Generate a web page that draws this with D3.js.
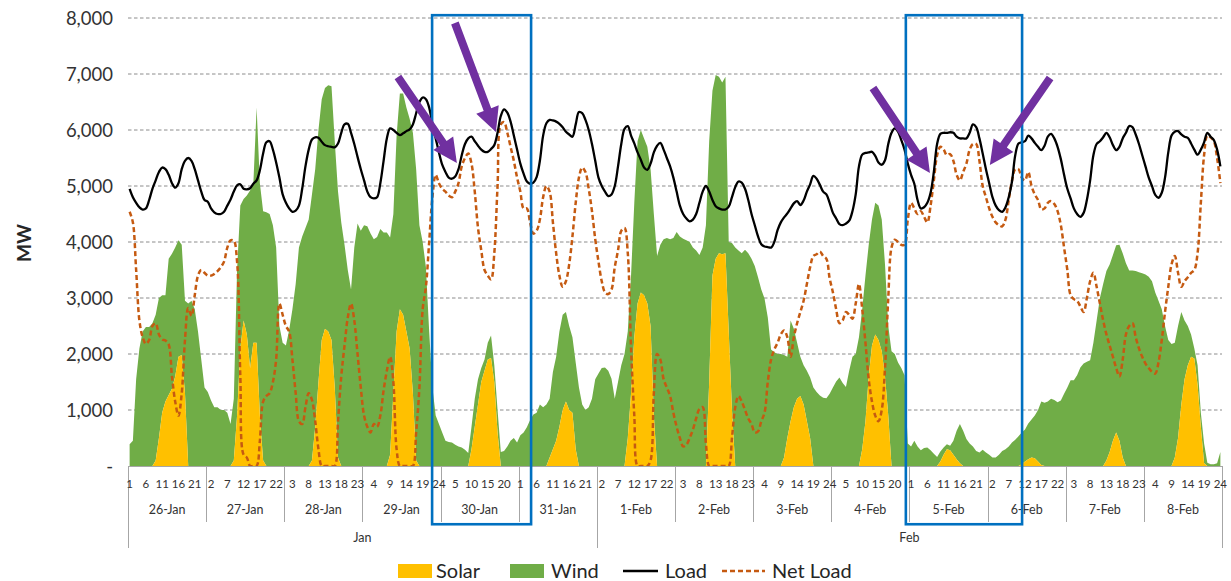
<!DOCTYPE html>
<html><head><meta charset="utf-8">
<script src="https://cdn.jsdelivr.net/npm/d3@7"></script>
<style>
body{margin:0;background:#fff;}
svg{display:block;font-family:Lato,"Open Sans",sans-serif;}
</style>
</head><body>
<svg id="chart" width="1231" height="581"></svg>
<script>
// ---------------- DATA ----------------
const days = ["26-Jan","27-Jan","28-Jan","29-Jan","30-Jan","31-Jan","1-Feb","2-Feb","3-Feb","4-Feb","5-Feb","6-Feb","7-Feb","8-Feb"];
const months = ["Jan","Feb"];
const monthDayCounts = [6, 8];
const hourLabelStep = 5;
const yTicks = [0,1000,2000,3000,4000,5000,6000,7000,8000];
const seriesNames = ["Solar","Wind","Load","Net Load"];

// hourly MW, one row per day (hours 1..24)
const solar = [
  0,0,0,0,0,0,0,0,100,500,950,1150,1270,1380,1600,1950,1980,1300,0,0,0,0,0,0,
  0,0,0,0,0,0,0,0,100,900,2100,2600,2350,1750,2200,2200,900,100,0,0,0,0,0,0,
  0,0,0,0,0,0,0,0,100,700,1500,2250,2450,2400,2250,1400,150,0,0,0,0,0,0,0,
  0,0,0,0,0,0,0,0,200,1300,2400,2800,2700,2400,2100,1300,100,0,0,0,0,0,0,0,
  0,0,0,0,0,0,0,0,0,300,700,1100,1500,1700,1900,1930,1500,600,0,0,0,0,0,0,
  0,0,0,0,0,0,0,0,0,150,300,450,700,1000,1150,1000,950,300,0,0,0,0,0,0,
  0,0,0,0,0,0,0,0,0,500,1300,2300,2900,3100,3050,2900,2500,900,0,0,0,0,0,0,
  0,0,0,0,0,0,0,0,0,0,1500,3400,3700,3800,3780,3800,2400,1000,0,0,0,0,0,0,
  0,0,0,0,0,0,0,0,0,150,500,800,1050,1200,1250,1100,800,500,0,0,0,0,0,0,
  0,0,0,0,0,0,0,0,0,300,800,1600,2150,2350,2250,2050,1600,900,0,0,0,0,0,0,
  0,0,0,0,0,0,0,0,0,80,200,300,280,200,120,50,0,0,0,0,0,0,0,0,
  0,0,0,0,0,0,0,0,0,0,30,80,120,150,140,80,20,0,0,0,0,0,0,0,
  0,0,0,0,0,0,0,0,0,0,0,0,100,250,450,600,450,150,0,0,0,0,0,0,
  0,0,0,0,0,0,0,0,0,150,500,1100,1550,1800,1950,1920,1450,700,50,0,0,0,0,0
];
const wind = [
  390,450,1550,2100,2400,2480,2480,2550,2600,2500,2100,1900,2430,2410,2300,2080,1970,1650,2900,2950,2800,2400,1900,1400,
  1320,1170,1050,1050,1000,1000,950,750,1100,2600,2550,2170,2480,3170,2840,4200,4150,4450,4530,4500,4300,3900,2500,2200,
  2150,2430,2800,3250,3900,4100,4250,4400,4750,4600,4500,4300,4300,4400,4530,4400,4750,4350,3950,3500,3150,3900,4330,4200,
  4300,4280,4150,4050,4090,4230,4170,4170,3880,3200,3500,3850,3950,4000,4100,4650,5200,4300,4000,3550,2400,1400,900,750,
  600,450,430,420,380,350,330,290,230,400,500,450,250,200,300,400,300,400,250,270,350,450,500,420,
  550,600,690,820,920,950,1100,1050,1100,1050,1380,1500,1700,1700,1600,1500,1350,1550,1400,1100,1000,1050,1200,1550,
  1650,1750,1760,1700,1560,1200,1500,1800,2000,1900,2100,2400,2900,2900,2800,2800,2800,3600,3750,3950,4050,4070,4050,4070,
  4180,4100,4060,4030,4000,3900,3850,3770,3900,4300,4300,3300,3280,3150,3070,3150,1600,2980,3900,3850,3800,3860,3800,3700,
  3570,3370,3150,2990,2650,2080,2030,2000,2000,1830,1450,1800,1400,1000,700,700,900,1080,1400,1320,1260,1220,1210,1290,
  1400,1510,1580,1480,1410,1700,1950,2000,2300,2500,2600,2350,2250,2350,2400,2350,2000,1600,2050,2000,1850,1750,1620,400,
  350,450,350,280,320,330,280,220,160,180,130,90,80,250,510,700,630,480,400,350,270,240,290,240,
  200,150,150,200,270,300,350,420,470,530,570,570,640,680,760,920,1130,1130,1150,1200,1180,1140,1170,1290,
  1400,1530,1530,1620,1760,1830,1860,1890,2200,2600,3000,3250,3380,3350,3320,3340,3500,3650,3620,3490,3490,3480,3460,3440,
  3420,3380,3300,3100,2950,2800,2500,2250,2180,2050,2000,1650,1050,700,400,180,350,250,350,60,30,30,50,250
];
const load = [
  4950,4800,4700,4620,4580,4600,4750,4950,5100,5250,5330,5300,5200,5050,4970,5050,5300,5450,5500,5450,5300,5100,4900,4750,
  4720,4600,4530,4500,4500,4540,4650,4760,4900,5010,5030,4950,4940,4960,5040,5100,5280,5580,5780,5800,5650,5420,5150,4850,
  4700,4600,4540,4560,4650,4950,5350,5650,5830,5870,5860,5790,5730,5710,5700,5690,5760,5950,6100,6110,5950,5750,5520,5300,
  5100,4900,4800,4780,4800,5050,5450,5850,6030,6000,5950,5910,5940,5980,6010,6100,6300,6500,6580,6550,6400,6100,5850,5600,
  5380,5250,5150,5130,5170,5300,5550,5750,5850,5880,5800,5720,5650,5610,5610,5660,5730,5950,6250,6370,6310,6150,5900,5650,
  5400,5220,5080,5040,5060,5160,5450,5900,6120,6180,6170,6150,6110,6050,5970,5920,5880,6100,6320,6300,6180,6000,5750,5450,
  5150,5000,4900,4820,4850,5000,5350,5750,6020,6070,5900,5760,5600,5470,5330,5290,5400,5600,5720,5770,5650,5500,5350,5150,
  4900,4650,4500,4420,4370,4400,4500,4700,4900,5000,4900,4750,4640,4600,4580,4580,4630,4800,4980,5080,5060,4950,4750,4500,
  4300,4100,3960,3920,3910,3900,4000,4210,4350,4440,4510,4600,4690,4730,4660,4740,4900,5030,5180,5130,5020,4900,4850,4700,
  4520,4420,4320,4300,4330,4380,4550,4850,5350,5560,5590,5600,5610,5540,5420,5380,5460,5750,5950,6030,5970,5820,5650,5400,
  5200,5040,4750,4600,4620,4700,4880,5250,5750,5930,5950,5950,5960,5950,5880,5850,5850,5850,5950,6100,6050,5850,5580,5300,
  5050,4800,4650,4570,4540,4620,4800,5080,5550,5760,5780,5800,5900,5850,5770,5700,5640,5720,5880,5930,5850,5700,5480,5200,
  4950,4780,4600,4500,4450,4520,4750,5100,5550,5750,5800,5870,5950,5870,5730,5640,5700,5850,5950,6070,6050,5920,5750,5550,
  5350,5150,5000,4840,4790,4880,5150,5600,5900,5970,5980,5920,5880,5860,5760,5650,5560,5650,5780,5950,5880,5820,5650,5350
];
const netLoad = [
  4540,4350,3500,2600,2300,2180,2250,2500,2550,2350,2260,2240,2170,1600,1150,900,1300,2250,2820,2680,3050,3400,3500,3450,
  3400,3400,3430,3480,3550,3650,3900,4030,4020,3650,1600,200,150,0,0,0,450,1150,1250,1300,1500,1900,2900,2700,
  2500,2400,1900,1300,800,750,1050,1300,1180,800,300,0,0,0,0,0,800,1600,2150,2650,2900,2600,2000,1400,
  900,700,600,750,700,900,1350,1700,1950,1500,300,0,0,0,0,0,600,1400,2800,3200,4000,4800,5200,5050,
  4950,4900,4830,4800,4900,5050,5350,5500,5580,5400,4900,4250,3850,3500,3400,3330,3800,5000,6100,6140,5950,5700,5450,5150,
  4900,4600,4600,4350,4150,4200,4400,4800,5000,4900,4350,3800,3400,3200,3300,3600,4100,4700,5150,5330,5250,4950,4550,4050,
  3650,3300,3100,3070,3150,3550,3850,4200,4250,3800,2100,900,0,0,0,0,100,1300,2000,1900,1550,1400,1250,950,
  700,500,350,380,500,650,850,1020,1050,400,0,0,0,0,0,0,0,500,1050,1250,1150,1000,850,750,
  600,620,800,950,1500,1900,2080,2200,2350,2420,2300,1950,2300,2550,2750,2950,3250,3550,3750,3780,3830,3750,3700,3350,
  3100,2800,2550,2600,2750,2700,2630,2900,3250,2800,2200,1550,1150,900,800,1000,1750,3000,3900,4040,4000,3950,3950,4400,
  4700,4600,4500,4550,4450,4350,4650,5100,5550,5700,5650,5550,5570,5450,5200,5100,5250,5400,5650,5750,5750,5450,5000,4800,
  4600,4450,4350,4300,4280,4400,4750,5100,5300,5300,5150,5100,5250,5000,4850,4750,4580,4600,4700,4730,4680,4550,4300,3900,
  3500,3050,2980,2950,2850,2750,3000,3300,3450,3200,2900,2600,2350,2150,1950,1750,1600,1900,2350,2500,2550,2300,2100,1950,
  1830,1750,1680,1650,1850,2250,2750,3200,3600,3750,3450,3200,3300,3370,3450,3500,3800,4700,5550,5900,5870,5800,5500,5050
];

// annotations in data units (h = hours from start of 26-Jan, MW)
const boxes = [{h0:93.4,h1:123.8,top:8050,bottom:-1040},{h0:238.9,h1:274.6,top:8050,bottom:-1040}];
const arrows = [
  {h0:82.9,v0:6946,h1:101.0,v1:5411},
  {h0:100.4,v0:7911,h1:113.0,v1:5964},
  {h0:228.8,v0:6750,h1:246.3,v1:5232},
  {h0:283.2,v0:6929,h1:264.7,v1:5375}
];

// ---------------- CHART ----------------
const HOURS = 24;
const N = days.length * HOURS;
const idx = d3.range(N);
const hourOfDay = idx.map(i => (i % HOURS) + 1);
const rows = idx.map(i => ({i, solar: solar[i], wind: wind[i], load: load[i], net: netLoad[i]}));

const svg = d3.select("#chart");
const L = 128, R = 1222, T = 18, B = 466;
const x = d3.scaleBand().domain(idx).range([L, R]).paddingInner(0).paddingOuter(0);
const bw = x.bandwidth();
const cx = i => x(i) + bw / 2;
const xh = h => L + h * bw;
const y = d3.scaleLinear().domain([0, 8000]).range([B, T]);

const C = {solar:"#FFC000", wind:"#70AD47", load:"#000000", net:"#C55A11", grid:"#8c8c8c", axis:"#a6a6a6", text:"#404040", box:"#0070C0", arrow:"#7030A0"};

svg.append("defs").append("clipPath").attr("id","plotclip")
  .append("rect").attr("x", L).attr("y", T - 5).attr("width", R - L).attr("height", B - T + 6);

// gridlines
svg.append("g").selectAll("line").data(yTicks.filter(v => v > 0)).join("line")
  .attr("x1", L).attr("x2", R).attr("y1", d => y(d)).attr("y2", d => y(d))
  .attr("stroke", C.grid).attr("stroke-width", 1).attr("stroke-dasharray", "3.5,2.5");

// y labels
svg.append("g").selectAll("text").data(yTicks).join("text")
  .attr("x", 113).attr("y", d => y(d) + 6.5)
  .attr("text-anchor", "end").attr("font-size", 18.5).attr("fill", "#333")
  .text(d => d === 0 ? "-" : d3.format(",")(d));

svg.append("text").attr("transform", "translate(24,243) rotate(-90)")
  .attr("text-anchor", "middle").attr("dy", "0.35em")
  .attr("font-size", 19).attr("font-weight", "bold").attr("fill", "#262626").text("MW");

// stacked areas
const stack = d3.stack().keys(["solar", "wind"])(rows);
const area = d3.area().x((d, k) => cx(k)).y0(d => y(d[0])).y1(d => y(d[1])).curve(d3.curveLinear);
const plot = svg.append("g").attr("clip-path", "url(#plotclip)");
plot.append("path").datum(stack[1]).attr("d", area).attr("fill", C.wind);
plot.append("path").datum(stack[0]).attr("d", area).attr("fill", C.solar);

// lines
const line = key => d3.line().x(d => cx(d.i)).y(d => y(d[key])).curve(d3.curveCatmullRom.alpha(0.5));
plot.append("path").datum(rows).attr("d", line("net")).attr("fill", "none")
  .attr("stroke", C.net).attr("stroke-width", 2.5).attr("stroke-dasharray", "5,3");
plot.append("path").datum(rows).attr("d", line("load")).attr("fill", "none")
  .attr("stroke", C.load).attr("stroke-width", 2.3);

// x axis
const ax = svg.append("g");
ax.append("line").attr("x1", L).attr("x2", R).attr("y1", B + 0.5).attr("y2", B + 0.5)
  .attr("stroke", C.axis).attr("stroke-width", 1);
const dayBounds = d3.range(days.length + 1).map(k => k * HOURS);
ax.selectAll("line.day").data(dayBounds).join("line").attr("class", "day")
  .attr("x1", d => Math.round(xh(d)) + 0.5).attr("x2", d => Math.round(xh(d)) + 0.5)
  .attr("y1", B).attr("y2", 522).attr("stroke", C.axis);
const monthStarts = [0];
monthDayCounts.forEach((c, k) => monthStarts.push(monthStarts[k] + c * HOURS));
ax.selectAll("line.mon").data(monthStarts).join("line").attr("class", "mon")
  .attr("x1", d => Math.round(xh(d)) + 0.5).attr("x2", d => Math.round(xh(d)) + 0.5)
  .attr("y1", B).attr("y2", 548).attr("stroke", C.axis);

ax.selectAll("text.hr").data(idx.filter(i => i % hourLabelStep === 0)).join("text").attr("class", "hr")
  .attr("x", d => cx(d)).attr("y", 487.5).attr("text-anchor", "middle")
  .attr("font-size", 11.5).attr("fill", "#333").text(d => hourOfDay[d]);
ax.selectAll("text.day").data(days).join("text").attr("class", "day")
  .attr("x", (d, k) => xh(k * HOURS + HOURS / 2)).attr("y", 514).attr("text-anchor", "middle")
  .attr("font-size", 12.5).attr("fill", "#333").text(d => d);
ax.selectAll("text.mon").data(months).join("text").attr("class", "mon")
  .attr("x", (d, k) => (xh(monthStarts[k]) + xh(monthStarts[k + 1])) / 2).attr("y", 542)
  .attr("text-anchor", "middle").attr("font-size", 12.5).attr("fill", "#333").text(d => d);

// annotations
svg.append("g").selectAll("rect").data(boxes).join("rect")
  .attr("x", d => xh(d.h0)).attr("y", d => y(d.top))
  .attr("width", d => xh(d.h1) - xh(d.h0)).attr("height", d => y(d.bottom) - y(d.top))
  .attr("fill", "none").attr("stroke", C.box).attr("stroke-width", 2.6);

function arrowPath(a) {
  const x0 = xh(a.h0), y0 = y(a.v0), x1 = xh(a.h1), y1 = y(a.v1);
  const dx = x1 - x0, dy = y1 - y0, len = Math.hypot(dx, dy);
  const ux = dx / len, uy = dy / len, px = -uy, py = ux;
  const sw = 4, hl = 24, hw = 12;
  const bx = x1 - ux * hl, by = y1 - uy * hl;
  const pts = [
    [x0 + px * sw, y0 + py * sw], [bx + px * sw, by + py * sw], [bx + px * hw, by + py * hw],
    [x1, y1], [bx - px * hw, by - py * hw], [bx - px * sw, by - py * sw], [x0 - px * sw, y0 - py * sw]
  ];
  return "M" + pts.map(p => p.join(",")).join("L") + "Z";
}
svg.append("g").selectAll("path").data(arrows).join("path")
  .attr("d", arrowPath).attr("fill", C.arrow);

// legend
const lg = svg.append("g").attr("font-size", 20);
const legendItems = [
  {name: seriesNames[0], type: "rect", color: C.solar, x: 398, tx: 436},
  {name: seriesNames[1], type: "rect", color: C.wind, x: 510, tx: 551},
  {name: seriesNames[2], type: "line", color: C.load, x: 623, tx: 665},
  {name: seriesNames[3], type: "dash", color: C.net, x: 722, tx: 772}
];
legendItems.forEach(it => {
  if (it.type === "rect") {
    lg.append("rect").attr("x", it.x).attr("y", 564).attr("width", 34).attr("height", 14).attr("fill", it.color);
  } else {
    lg.append("line").attr("x1", it.x).attr("x2", it.x + (it.type === "dash" ? 43 : 35)).attr("y1", 571).attr("y2", 571)
      .attr("stroke", it.color).attr("stroke-width", 2.3).attr("stroke-dasharray", it.type === "dash" ? "5,3" : null);
  }
  lg.append("text").attr("x", it.tx).attr("y", 578).attr("fill", "#262626").text(it.name);
});
</script>
</body></html>
